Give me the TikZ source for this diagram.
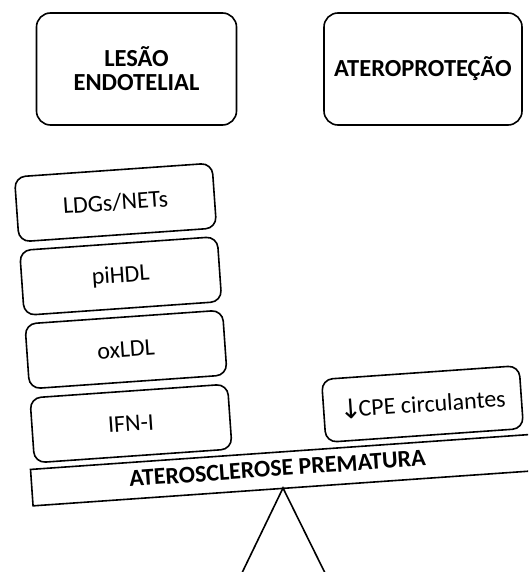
\documentclass[tikz,border=0pt]{standalone}
\usepackage{fontspec}
\setmainfont{Carlito}
\newfontfamily\arrowfont{DejaVu Sans}
\begin{document}
\begin{tikzpicture}[x=1pt,y=-1pt,
  line width=1.6pt,
  topbox/.style={draw, rounded corners=14pt, minimum width=200pt, minimum height=112pt,
    align=center, font=\fontsize{24.5}{24}\selectfont\bfseries},
  stackbox/.style={draw, rounded corners=11pt, minimum width=198pt, minimum height=65pt,
    rotate=4, font=\fontsize{24}{24}\selectfont},
  beamtext/.style={rotate=4, inner sep=0pt, text height=15.5pt, text depth=0pt,
    font=\fontsize{24}{24}\selectfont\bfseries}]
\useasboundingbox (0,0) rectangle (528,572);
% top boxes
\node[topbox] (lesao) at (136.5,69) {LESÃO\\ENDOTELIAL};
\node[topbox, minimum width=198pt] (atero) at (423,69) {ATEROPROTEÇÃO};
% left stack
\node[stackbox] (ldg) at (115.5,202.5) {LDGs/NETs};
\node[stackbox] (pihdl) at (120.7,276) {piHDL};
\node[stackbox] (oxldl) at (126,349.5) {oxLDL};
\node[stackbox] (ifn) at (131,423.5) {IFN-I};
% right box
\node[stackbox, minimum height=63pt] (cpe) at (422.5,404) {\raisebox{-1.5pt}{\arrowfont\fontsize{27}{27}\selectfont ↓}\kern-3.5pt CPE circulantes};
% beam and fulcrum
\begin{scope}
\clip (0,0) rectangle (528,572);
\node[draw, rotate=4, anchor=west, minimum width=600pt, minimum height=36.5pt, inner sep=0pt] (beam) at (31,487.7) {};
\coordinate (apex) at (283,488);
\coordinate (baseL) at (240,577);
\coordinate (baseR) at (327,577);
\draw[line join=miter] (apex) -- (baseL) -- (baseR) -- cycle;
\end{scope}
\node[beamtext] (beamlabel) at (277.5,468.5) {ATEROSCLEROSE PREMATURA};
\end{tikzpicture}
\end{document}
